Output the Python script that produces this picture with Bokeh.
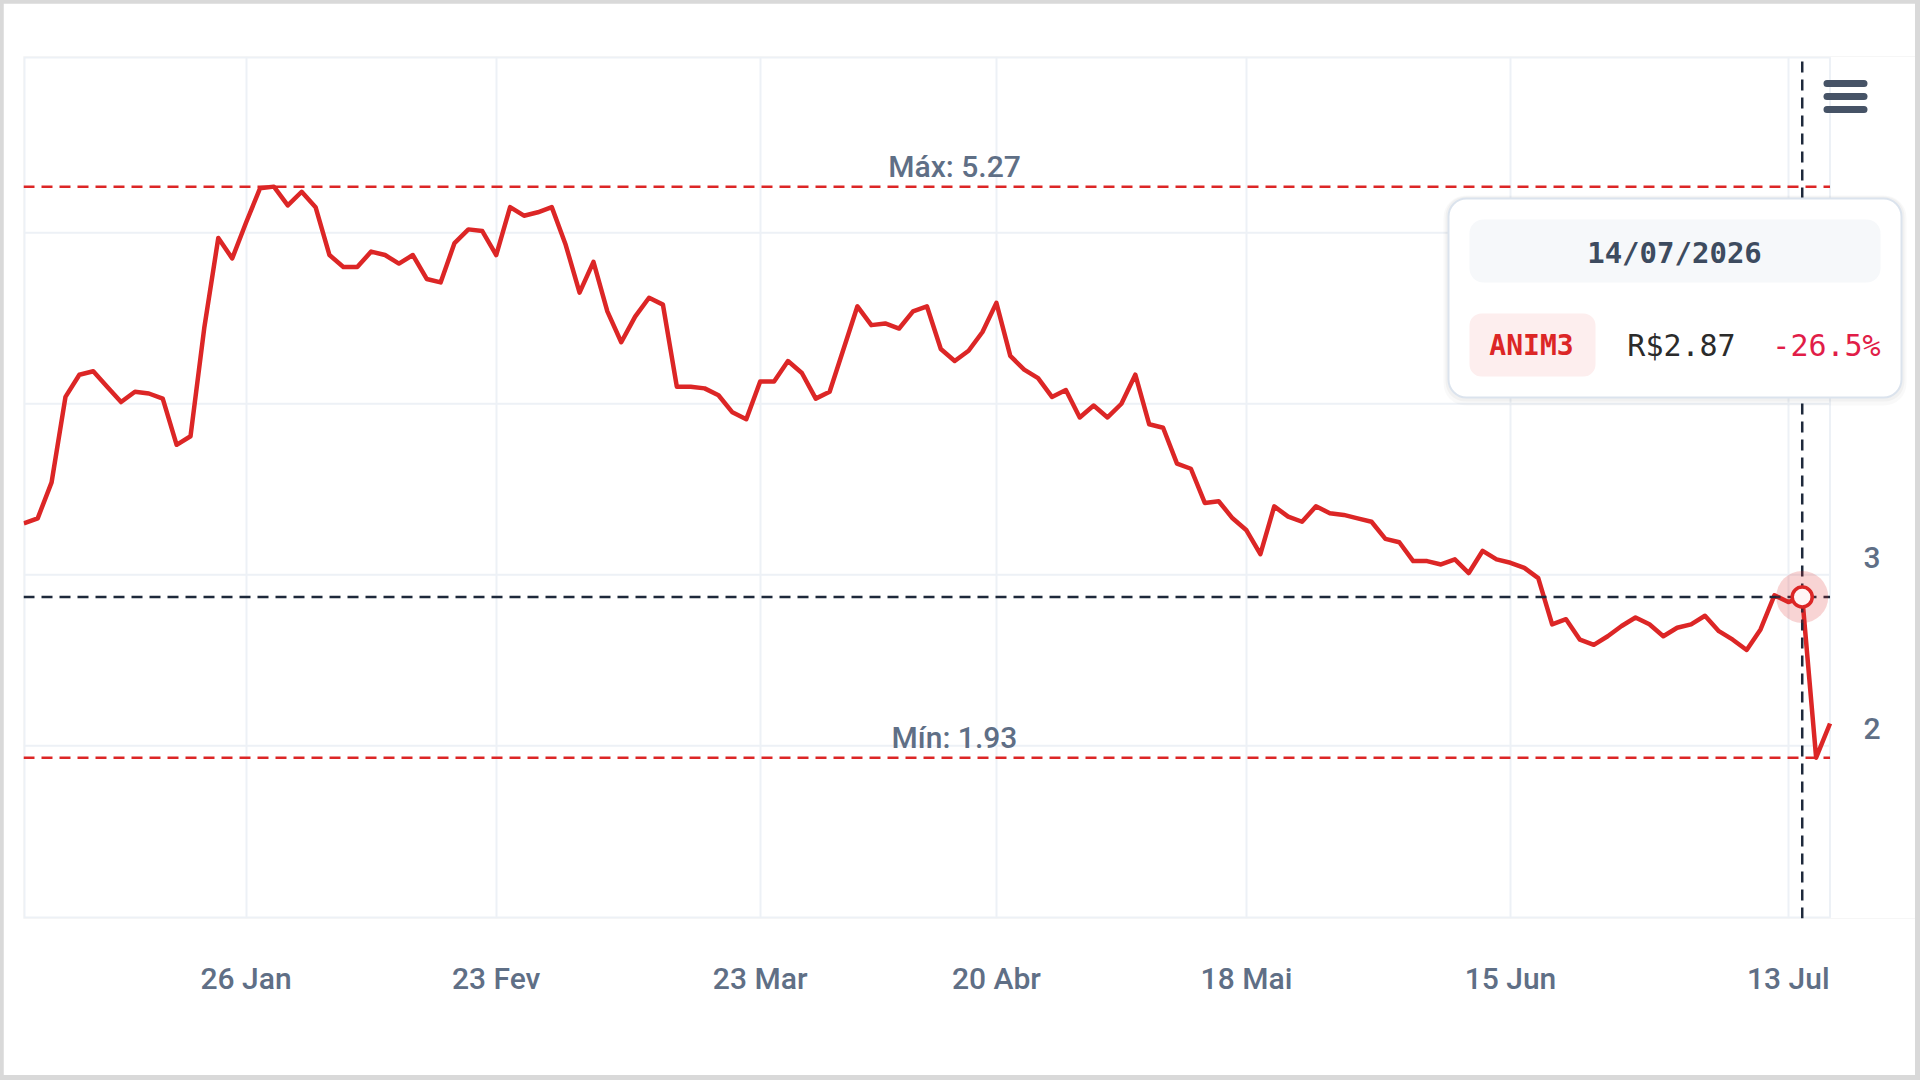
import re
from bokeh.plotting import figure
from bokeh.models import Range1d, FixedTicker, BoxAnnotation, Label
from bokeh.embed import file_html
from bokeh.resources import INLINE
from bokeh.core.properties import value

# ---------------- data ----------------
prices = [
    3.30, 3.33, 3.54, 4.04, 4.17, 4.19, 4.10, 4.01, 4.07, 4.06,
    4.03, 3.76, 3.81, 4.45, 4.97, 4.85, 5.06, 5.26, 5.27, 5.16,
    5.24, 5.15, 4.87, 4.80, 4.80, 4.89, 4.87, 4.82, 4.87, 4.73,
    4.71, 4.94, 5.02, 5.01, 4.87, 5.15, 5.10, 5.12, 5.15, 4.93,
    4.65, 4.83, 4.54, 4.36, 4.51, 4.62, 4.58, 4.10, 4.10, 4.09,
    4.05, 3.95, 3.91, 4.13, 4.13, 4.25, 4.18, 4.03, 4.07, 4.32,
    4.57, 4.46, 4.47, 4.44, 4.54, 4.57, 4.32, 4.25, 4.31, 4.42,
    4.59, 4.28, 4.20, 4.15, 4.04, 4.08, 3.92, 3.99, 3.92, 4.00,
    4.17, 3.88, 3.86, 3.65, 3.62, 3.42, 3.43, 3.33, 3.26, 3.12,
    3.40, 3.34, 3.31, 3.40, 3.36, 3.35, 3.33, 3.31, 3.21, 3.19,
    3.08, 3.08, 3.06, 3.09, 3.01, 3.14, 3.09, 3.07, 3.04, 2.98,
    2.71, 2.74, 2.62, 2.59, 2.64, 2.70, 2.75, 2.71, 2.64, 2.69,
    2.71, 2.76, 2.67, 2.62, 2.56, 2.68, 2.88, 2.84, 2.87, 1.93,
    2.13,
]
tick_idx = [16, 34, 53, 70, 88, 107, 127]
tick_labels = ["26 Jan", "23 Fev", "23 Mar", "20 Abr", "18 Mai", "15 Jun", "13 Jul"]
y_ticks = [2, 3]
grid_levels = [2, 3, 4, 5]
ticker_name = "ANIM3"
hover_idx = 128
hover_date = "14/07/2026"
hover_change = "-26.5%"

# ---------------- geometry helpers (page pixels -> data) ----------------
W, H = 1912, 1072
ML, MT = 3, 3
FL, FT, FR, FB = 23, 56, 1915, 918
X0PX, XSTEP = 23.3, 13.894
Y5PX, YUNIT = 232.3, 170.97


def X(px):
    return (px - X0PX) / XSTEP


def Y(py):
    return 5 + (Y5PX - py) / YUNIT


n = len(prices)
xs = list(range(n))
last_x = n - 1
vmax, vmin = max(prices), min(prices)
hover_price = prices[hover_idx]

RED = "#dc2626"
SLATE = "#5f6f86"
GRID = "#edf1f6"
LABEL_FONT = "Roboto Medium, Liberation Sans"
MONO = "DejaVu Sans Mono"

p = figure(
    width=W, height=H,
    x_range=Range1d(X(FL), X(FR)), y_range=Range1d(Y(FB), Y(FT)),
    output_backend="svg", toolbar_location=None, y_axis_location=None,
    min_border_left=FL - ML, min_border_top=FT - MT,
    min_border_right=ML + W - FR, min_border_bottom=MT + H - FB,
    margin=(MT, 1920 - ML - W, 1080 - MT - H, ML),
)
p.outline_line_color = None
p.background_fill_color = "white"
p.border_fill_color = "white"

# vertical grid
p.xgrid.ticker = FixedTicker(ticks=tick_idx)
p.xgrid.grid_line_color = GRID
p.xgrid.grid_line_width = 2
p.ygrid.visible = False

# x axis
ax = p.xaxis[0]
ax.ticker = FixedTicker(ticks=tick_idx)
ax.major_label_overrides = {t: l for t, l in zip(tick_idx, tick_labels)}
ax.axis_line_color = None
ax.major_tick_line_color = None
ax.minor_tick_line_color = None
ax.major_label_standoff = 36
ax.major_label_text_font = LABEL_FONT
ax.major_label_text_font_size = "30px"
ax.major_label_text_color = SLATE

# plot-area border and horizontal grid
p.quad(left=X(24), right=last_x, top=Y(57), bottom=Y(917),
       fill_color=None, line_color=GRID, line_width=2)
p.segment(x0=X(FL), x1=last_x, y0=grid_levels, y1=grid_levels,
          line_color=GRID, line_width=2)

# y labels (right side), sitting just above their grid lines
p.text(x=[X(1863)] * len(y_ticks), y=y_ticks, text=[str(t) for t in y_ticks],
       text_align="left", text_baseline="middle", y_offset=-17,
       text_font=value(LABEL_FONT), text_font_size="30px", text_color=SLATE)

# max / min lines
p.segment(x0=X(FL), x1=last_x, y0=[vmax, vmin], y1=[vmax, vmin],
          line_color=RED, line_width=2.5, line_dash="11 7")
mid = X(954)
p.text(x=[mid, mid], y=[vmax, vmin],
       text=[f"Máx: {vmax:.2f}", f"Mín: {vmin:.2f}"],
       text_align="center", text_baseline="middle", y_offset=-20,
       text_font=value(LABEL_FONT), text_font_size="30px", text_color=SLATE)

# price line
p.line(xs, prices, line_color=RED, line_width=4.5, line_join="round")

# crosshair
p.segment(x0=X(FL), x1=last_x, y0=hover_price, y1=hover_price,
          line_color="#1e293b", line_width=2.5, line_dash="11 7")
p.segment(x0=hover_idx, x1=hover_idx, y0=Y(FB), y1=Y(FT),
          line_color="#1e293b", line_width=2.5, line_dash="11 7")

# highlighted point
p.scatter([hover_idx], [hover_price], size=52, fill_color=RED, fill_alpha=0.2,
          line_color=None)
p.scatter([hover_idx], [hover_price], size=20, fill_color="#fff5f5",
          line_color=RED, line_width=3.5)

# ---------------- tooltip ----------------
def box(l, r, t, b, fill, alpha=1.0, line=None, lw=0, radius=0):
    ba = BoxAnnotation(left=X(l), right=X(r), top=Y(t), bottom=Y(b),
                       fill_color=fill, fill_alpha=alpha,
                       line_color=line, line_width=lw, line_alpha=1.0,
                       border_radius=int(radius))
    p.add_layout(ba)


box(1443, 1906, 195, 405, "#000000", 0.025, radius=22)
box(1445, 1904, 196, 401, "#000000", 0.03, radius=20)
box(1448, 1901, 198, 397, "white", 1.0, line="#dbe3ed", lw=2, radius=18)
box(1469, 1880, 219, 282, "#f6f8fa", radius=14)
box(1469, 1595, 313, 376, "#fdeeee", radius=12)

p.add_layout(Label(x=X(1674), y=Y(252), text=hover_date, text_align="center",
                   text_baseline="middle", text_font=MONO, text_font_style="bold",
                   text_font_size="29px", text_color="#3d4b5f"))
p.add_layout(Label(x=X(1531), y=Y(345), text=ticker_name, text_align="center",
                   text_baseline="middle", text_font=MONO, text_font_style="bold",
                   text_font_size="28px", text_color=RED))
p.add_layout(Label(x=X(1681), y=Y(345), text=f"R${hover_price:.2f}", text_align="center",
                   text_baseline="middle", text_font=MONO,
                   text_font_size="30px", text_color="#2b2b2b"))
p.add_layout(Label(x=X(1826), y=Y(345), text=hover_change, text_align="center",
                   text_baseline="middle", text_font=MONO,
                   text_font_size="30px", text_color="#e11d48"))

# hamburger menu icon
for cy in (83, 96, 109):
    box(1823, 1867, cy - 3.5, cy + 3.5, "#465366", radius=4)

html = file_html(p, INLINE)
html = html.replace("</head>",
                    "<style>html,body{margin:0;padding:0;background:#d9d9d9;}</style></head>", 1)
html = re.sub(r"<body[^>]*>", '<body style="margin:0;background:#d9d9d9;">', html, count=1)
open("out.html", "w").write(html)
